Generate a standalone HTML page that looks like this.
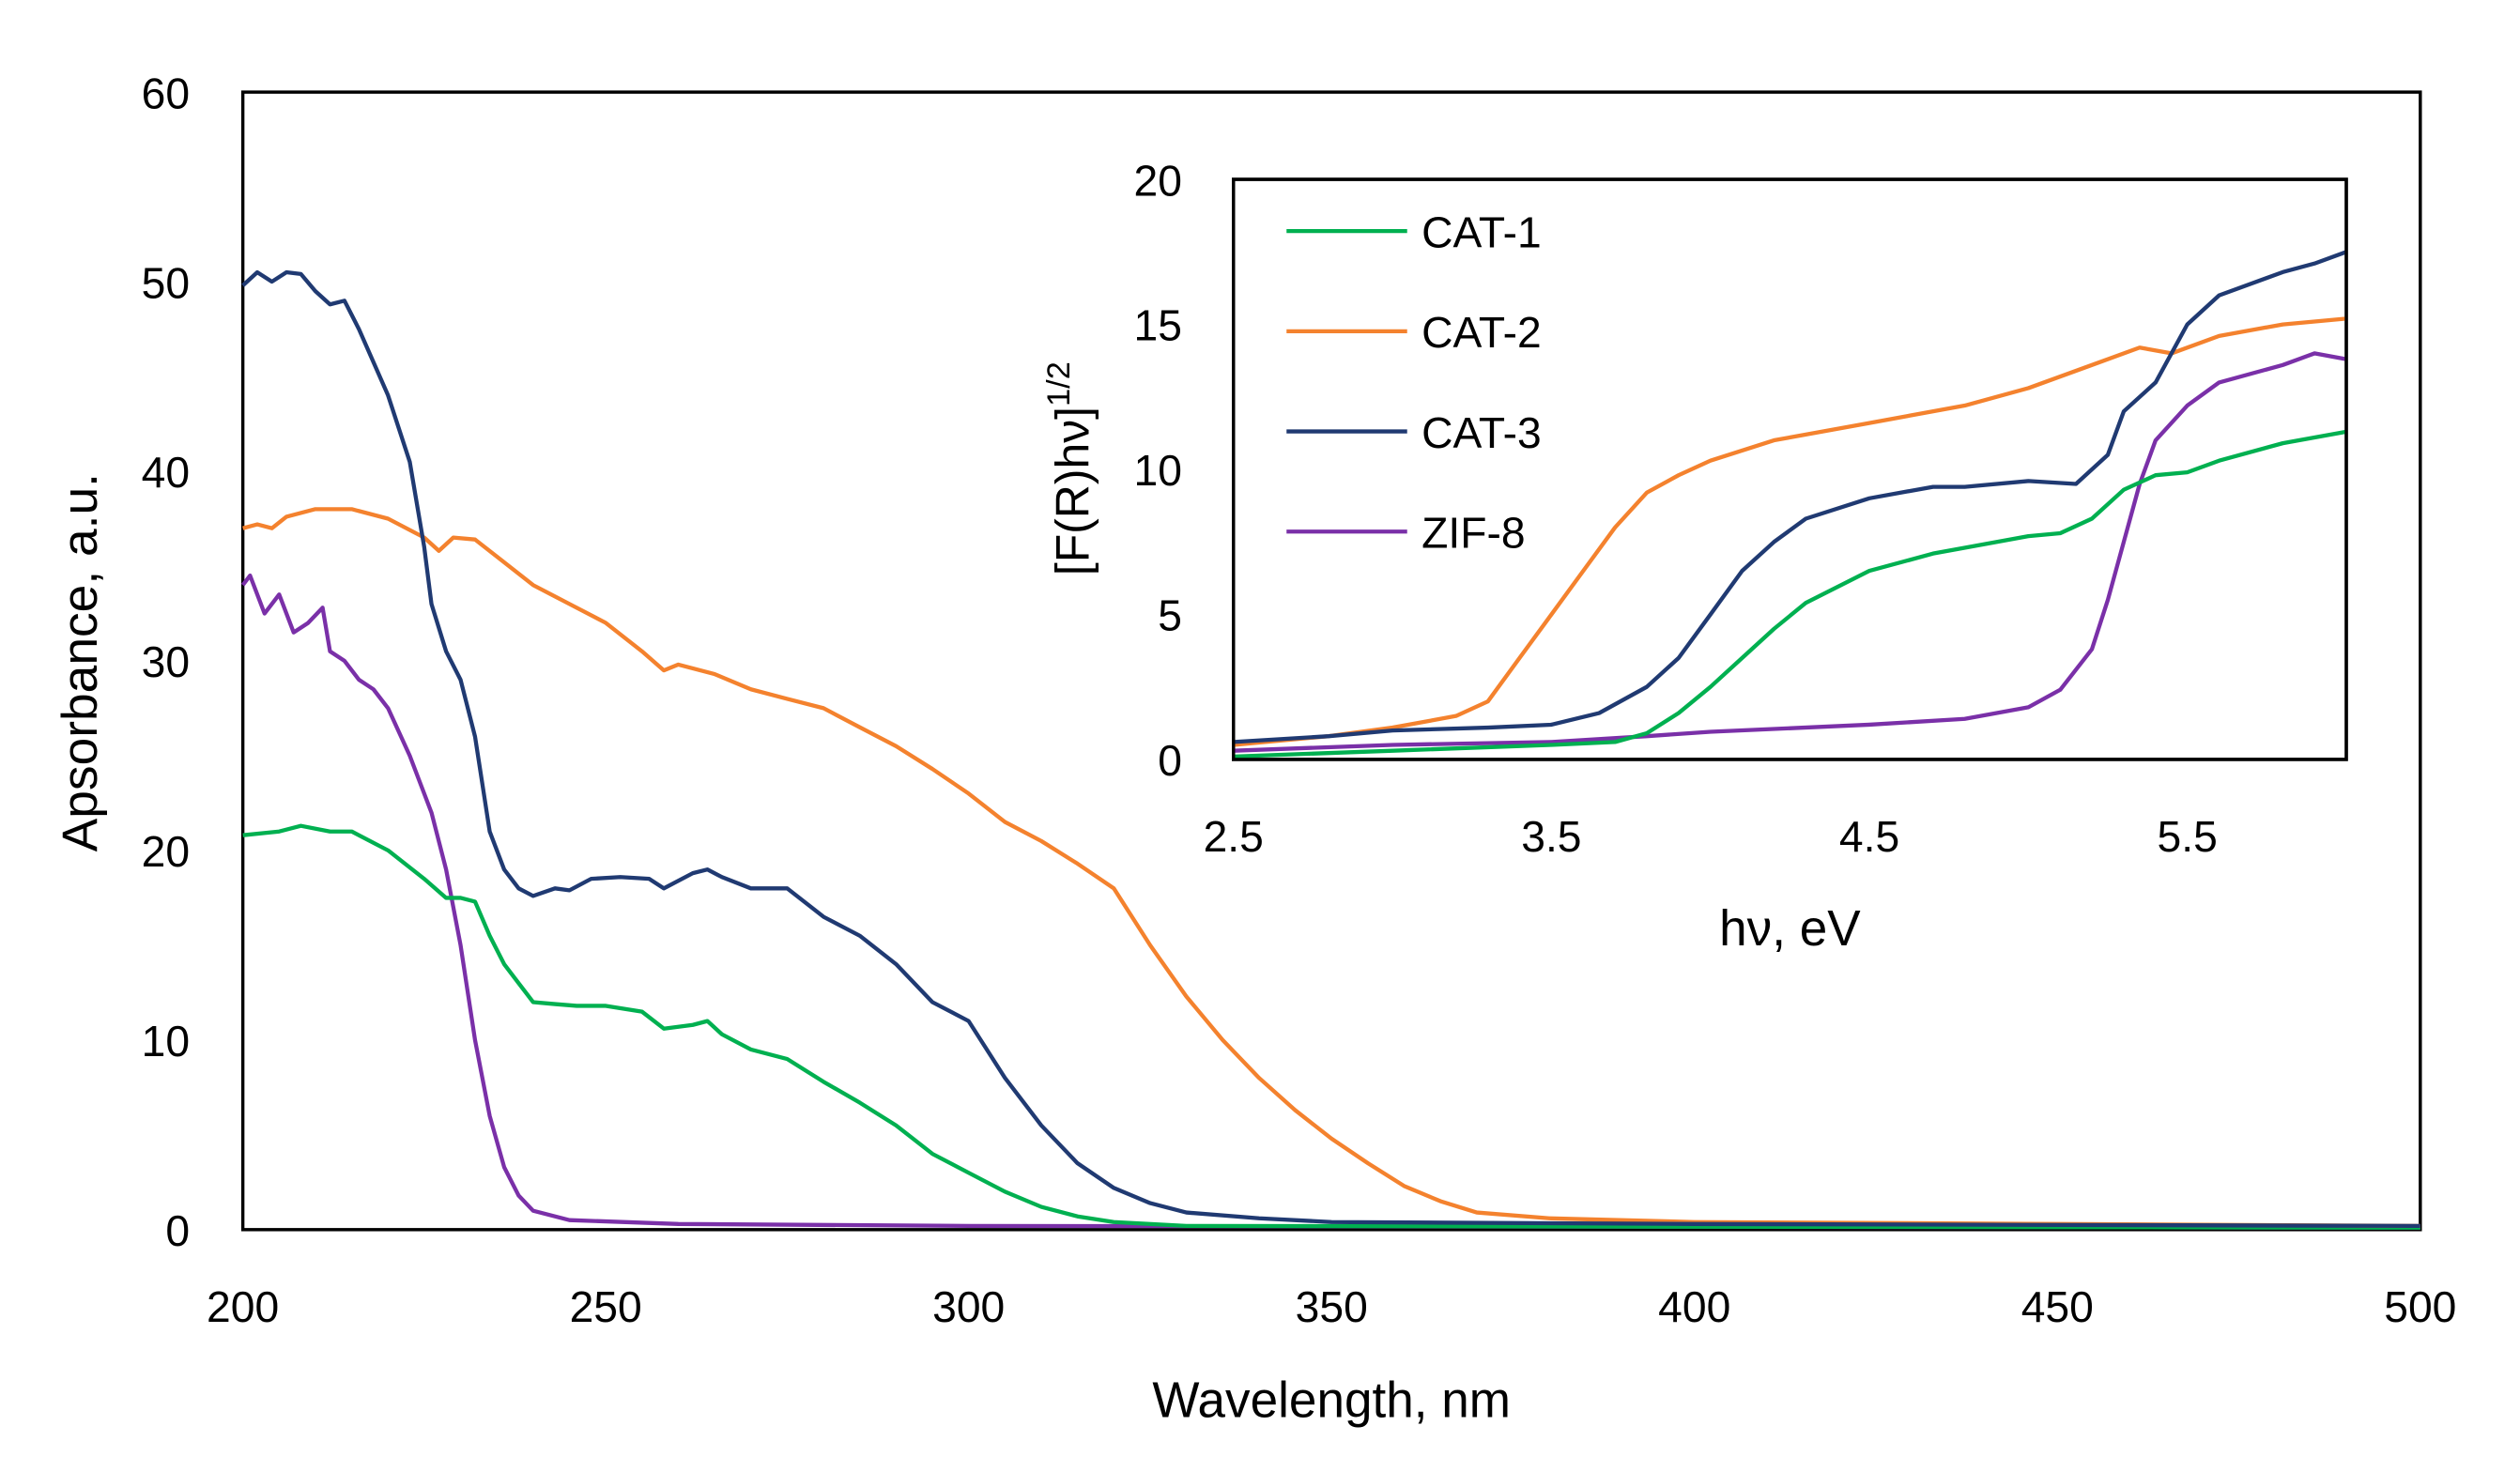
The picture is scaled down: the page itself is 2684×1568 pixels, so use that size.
<!DOCTYPE html>
<html><head><meta charset="utf-8"><style>
html,body{margin:0;padding:0;background:#fff;}
svg{display:block;font-family:"Liberation Sans",sans-serif;}
</style></head><body>
<svg id="chart" width="2684" height="1568" viewBox="0 0 1567 911" preserveAspectRatio="none" xmlns="http://www.w3.org/2000/svg"></svg>
<script>
// Main chart data
const mainXTicks=[200,250,300,350,400,450,500];
const mainYTicks=[0,10,20,30,40,50,60];
const cat1X=[200,205,208,212,215,220,225,228,230,232,234,236,238,240,243,246,250,255,258,262,264,266,270,275,280,285,290,295,300,305,310,315,320,330,400,500];
const cat1Y=[20.8,21,21.3,21,21,20,18.5,17.5,17.5,17.3,15.5,14,13,12,11.9,11.8,11.8,11.5,10.6,10.8,11,10.3,9.5,9,7.8,6.7,5.5,4,3,2,1.2,0.7,0.4,0.2,0.15,0.1];
const cat2X=[200,202,204,206,210,215,220,225,227,229,232,235,240,245,250,255,258,260,265,270,275,280,285,290,295,300,305,310,315,320,325,330,335,340,345,350,355,360,365,370,380,400,450,500];
const cat2Y=[37,37.2,37,37.6,38,38,37.5,36.5,35.8,36.5,36.4,35.5,34,33,32,30.5,29.5,29.8,29.3,28.5,28,27.5,26.5,25.5,24.3,23,21.5,20.5,19.3,18,15,12.3,10,8,6.3,4.8,3.5,2.3,1.5,0.9,0.6,0.4,0.3,0.2];
const cat3X=[200,202,204,206,208,210,212,214,216,220,223,225,226,228,230,232,234,236,238,240,243,245,248,252,256,258,262,264,266,270,275,280,285,290,295,300,305,310,315,320,325,330,340,350,400,500];
const cat3Y=[49.8,50.5,50,50.5,50.4,49.5,48.8,49,47.5,44,40.5,36,33,30.5,29,26,21,19,18,17.6,18,17.9,18.5,18.6,18.5,18,18.8,19,18.6,18,18,16.5,15.5,14,12,11,8,5.5,3.5,2.2,1.4,0.9,0.6,0.4,0.3,0.2];
const zifX=[200,201,203,205,207,209,211,212,214,216,218,220,223,226,228,230,232,234,236,238,240,245,260,300,500];
const zifY=[34,34.5,32.5,33.5,31.5,32,32.8,30.5,30,29,28.5,27.5,25,22,19,15,10,6,3.3,1.8,1,0.5,0.3,0.2,0.1];
// Inset data
const insXTicks=[2.5,3.5,4.5,5.5];
const insYTicks=[0,5,10,15,20];
const iCat1X=[2.5,3.0,3.5,3.7,3.8,3.9,4.0,4.1,4.2,4.3,4.5,4.7,4.8,5.0,5.1,5.2,5.3,5.4,5.5,5.6,5.8,6.0];
const iCat1Y=[0.1,0.3,0.5,0.6,0.9,1.6,2.5,3.5,4.5,5.4,6.5,7.1,7.3,7.7,7.8,8.3,9.3,9.8,9.9,10.3,10.9,11.3];
const iCat2X=[2.5,2.8,3.0,3.2,3.3,3.4,3.5,3.6,3.7,3.8,3.9,4.0,4.2,4.5,4.8,5.0,5.2,5.35,5.45,5.6,5.8,6.0];
const iCat2Y=[0.5,0.8,1.1,1.5,2,3.5,5,6.5,8,9.2,9.8,10.3,11,11.6,12.2,12.8,13.6,14.2,14,14.6,15,15.2];
const iCat3X=[2.5,2.8,3.0,3.3,3.5,3.65,3.8,3.9,4.0,4.1,4.2,4.3,4.5,4.7,4.8,5.0,5.15,5.25,5.3,5.4,5.5,5.6,5.8,5.9,6.0];
const iCat3Y=[0.6,0.8,1,1.1,1.2,1.6,2.5,3.5,5,6.5,7.5,8.3,9,9.4,9.4,9.6,9.5,10.5,12,13,15,16,16.8,17.1,17.5];
const iZifX=[2.5,3.0,3.5,3.8,4.0,4.5,4.8,5.0,5.1,5.2,5.25,5.3,5.35,5.4,5.5,5.6,5.8,5.9,6.0];
const iZifY=[0.3,0.5,0.6,0.8,0.95,1.2,1.4,1.8,2.4,3.8,5.5,7.5,9.5,11,12.2,13,13.6,14,13.8];
const seriesNames=["CAT-1","CAT-2","CAT-3","ZIF-8"];

const svg=document.getElementById('chart');
const NS='http://www.w3.org/2000/svg';
function mk(tag,attrs,parent){const e=document.createElementNS(NS,tag);for(const k in attrs)e.setAttribute(k,attrs[k]);(parent||svg).appendChild(e);return e;}
const colors=['#00b050','#f4822e','#203a72','#7a30a8'];

const mx=v=>151+(v-200)/300*(1505-151);
const my=v=>761-v/60*(761-57);
const ix=v=>767+(v-2.5)/3.5*(1459-767);
const iy=v=>470-v/20*(470-111);

let t;
const mainBox=mk('rect',{x:151,y:57,width:1354,height:704,fill:'none',stroke:'#000','stroke-width':2});


mainXTicks.forEach(v=>{t=mk('text',{x:mx(v),y:818,'font-size':27,'text-anchor':'middle'});t.textContent=v;

});
mainYTicks.forEach(v=>{t=mk('text',{x:118,y:my(v)+10,'font-size':27,'text-anchor':'end'});t.textContent=v;

});
t=mk('text',{x:828,y:877,'font-size':31,'text-anchor':'middle'});t.textContent='Wavelength, nm';


t=mk('text',{x:0,y:0,'font-size':31,'text-anchor':'middle',transform:'translate(60,410) rotate(-90)'});t.textContent='Apsorbance, a.u.';



function line(xs,ys,fx,fy,c,name){const d=xs.map((x,i)=>(i?'L':'M')+fx(x).toFixed(1)+','+fy(ys[i]).toFixed(1)).join('');
const p=mk('path',{d:d,fill:'none',stroke:c,'stroke-width':2.5,'stroke-linejoin':'round'});

}
line(zifX,zifY,mx,my,colors[3],'zif8-absorbance-line');
line(cat1X,cat1Y,mx,my,colors[0],'cat1-absorbance-line');
line(cat2X,cat2Y,mx,my,colors[1],'cat2-absorbance-line');
line(cat3X,cat3Y,mx,my,colors[2],'cat3-absorbance-line');

const inBg=mk('rect',{x:767,y:111,width:692,height:359,fill:'#fff',stroke:'#000','stroke-width':2});


insXTicks.forEach(v=>{t=mk('text',{x:ix(v),y:527,'font-size':27,'text-anchor':'middle'});t.textContent=v.toFixed(1);

});
insYTicks.forEach(v=>{t=mk('text',{x:735,y:iy(v)+10,'font-size':27,'text-anchor':'end'});t.textContent=v;

});
t=mk('text',{x:1113,y:585,'font-size':31,'text-anchor':'middle'});t.textContent='hν, eV';


t=mk('text',{x:0,y:0,'font-size':29,'text-anchor':'middle',transform:'translate(677,290) rotate(-90)'});
t.innerHTML='[F(R)hν]<tspan font-size="20" dy="-12">1/2</tspan>';


line(iZifX,iZifY,ix,iy,colors[3],'inset-zif8-line');
line(iCat1X,iCat1Y,ix,iy,colors[0],'inset-cat1-line');
line(iCat2X,iCat2Y,ix,iy,colors[1],'inset-cat2-line');
line(iCat3X,iCat3Y,ix,iy,colors[2],'inset-cat3-line');
const inBox=mk('rect',{x:767,y:111,width:692,height:359,fill:'none',stroke:'#000','stroke-width':2});



seriesNames.forEach((n,i)=>{const y=143+i*62;
const g=mk('g',{});


mk('line',{x1:800,x2:875,y1:y,y2:y,stroke:colors[i],'stroke-width':2.5},g);
const tt=mk('text',{x:884,y:y+10,'font-size':27},g);tt.textContent=n;});
</script>
</body></html>
